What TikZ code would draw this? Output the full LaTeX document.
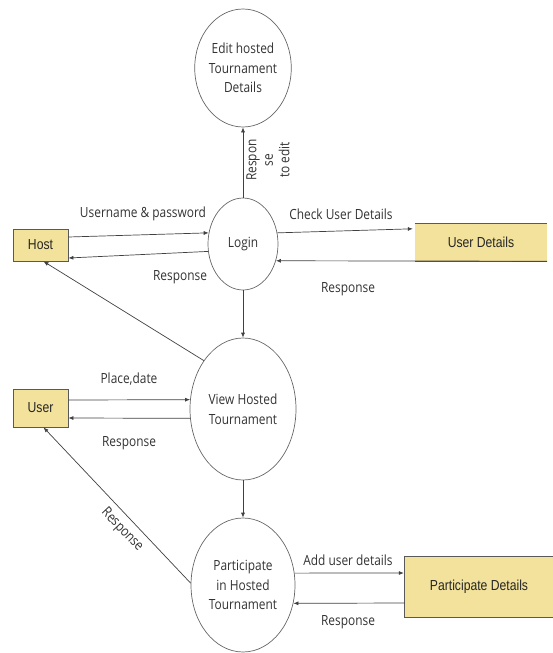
\documentclass[tikz,border=0pt]{standalone}
\usepackage{fontspec}
\setmainfont{Open Sans}
\newfontfamily\lblfamily{Open Sans}[FakeStretch=0.85]
\newfontfamily\boxfamily{Liberation Sans}[FakeStretch=0.84]
\usetikzlibrary{shapes.geometric,arrows.meta}
\definecolor{boxyellow}{HTML}{F2E29B}
\newcommand\mylbl{\lblfamily\fontsize{14}{16.5}\selectfont}
\newcommand\mycirc{\lblfamily\fontsize{14}{19.5}\selectfont}
\newcommand\mybox{\boxfamily\fontsize{14.5}{17}\selectfont}
\begin{document}
\begin{tikzpicture}[x=1pt,y=-1pt,
  proc/.style={ellipse,draw=black!60,line width=0.7pt,inner sep=0pt,align=center,font=\mycirc,text=black!80},
  ext/.style={draw=black!65,fill=boxyellow,line width=0.8pt,font=\mybox,inner sep=0pt,text=black!85},
  store/.style={fill=boxyellow,font=\mybox,inner sep=0pt,text=black!85},
  storeline/.style={draw=black!65,line width=0.8pt},
  flow/.style={draw=black!75,line width=0.7pt,-{Latex[length=5pt,width=4pt]}},
  lbl/.style={font=\mylbl,text=black!80,inner sep=0pt}]
\useasboundingbox (0,0) rectangle (553,653);
% processes
\node[proc,minimum width=86pt,minimum height=118pt] (edit) at (243,68) {Edit hosted\\Tournament\\Details};
\node[proc,minimum width=70pt,minimum height=92pt] (login) at (243,244) {Login};
\node[proc,minimum width=106pt,minimum height=142pt] (view) at (243,409) {View Hosted\\Tournament};
\node[proc,minimum width=104pt,minimum height=134pt] (part) at (243,585) {Participate\\in Hosted\\Tournament};
% entities
\node[ext,minimum width=55pt,minimum height=32pt] (host) at (40.5,245) {Host};
\node[ext,minimum width=55pt,minimum height=38pt] (user) at (40.5,408) {User};
% data stores
\node[store,minimum width=132pt,minimum height=37pt] (ud) at (481,242.5) {User Details};
\draw[storeline] (ud.north west) -- (ud.north east);
\draw[storeline] (ud.south west) -- (ud.south east);
\node[store,minimum width=148pt,minimum height=60pt] (pd) at (479,587) {Participate Details};
\draw[storeline] (pd.north east) -- (pd.north west) -- (pd.south west) -- (pd.south east);
% flows
\draw[flow] ([yshift=8pt]host.east) -- (login.162);
\draw[flow] (login.192) -- ([yshift=-13pt]host.east);
\draw[flow] (login.18) -- ([xshift=-2pt,yshift=-5pt]ud.north west);
\draw[flow] (ud.south east) -- (login.-27);
\draw[flow] (login.north) -- (edit.south);
\draw[flow] (login.south) -- (view.north);
\draw[flow] (view.129) -- ([xshift=3pt]host.south);
\draw[flow] ([yshift=8pt]user.east) -- (view.170);
\draw[flow] (view.190) -- ([yshift=-10pt]user.east);
\draw[flow] (view.south) -- (part.north);
\draw[flow] (part.178) -- ([xshift=3pt]user.south);
\draw[flow] (part.13) -- ([xshift=-1pt,yshift=14pt]pd.west);
\draw[flow] ([yshift=-16pt]pd.west) -- (part.-20);
% labels
\node[lbl] (l1) at (143,214) {Username \& password};
\node[lbl] (l2) at (180,277) {Response};
\node[lbl] (l3) at (341,214) {Check User Details};
\node[lbl] (l4) at (348,289) {Response};
\node[lbl,rotate=90,align=center] (l5) at (268,160) {Respon\\se\\to edit};
\node[lbl] (l6) at (129,379) {Place,date};
\node[lbl] (l7) at (129,443) {Response};
\node[lbl,rotate=-46.5] (l8) at (122,530) {Response};
\node[lbl] (l9) at (348,560) {Add user details};
\node[lbl] (l10) at (348,622) {Response};
\end{tikzpicture}
\end{document}
